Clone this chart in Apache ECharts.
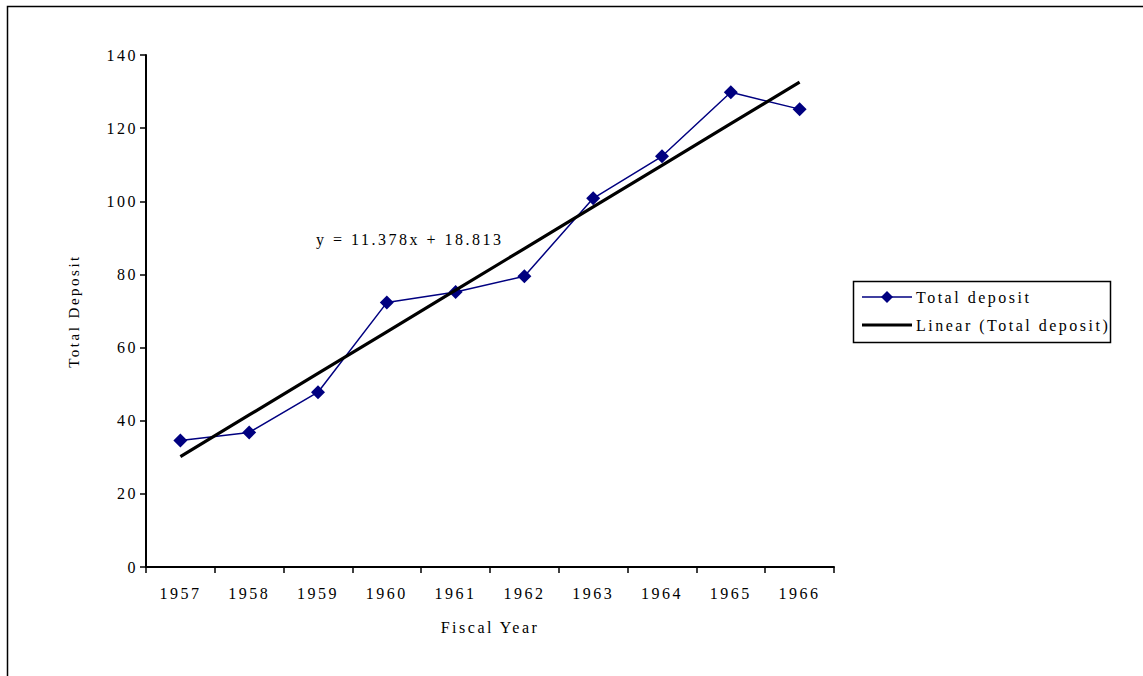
<!DOCTYPE html>
<html><head><meta charset="utf-8">
<script src="https://cdn.jsdelivr.net/npm/echarts@6/dist/echarts.min.js"></script>
<style>
html,body{margin:0;padding:0;background:#fff;}
#c{width:1143px;height:676px;}
#c text{letter-spacing:2.5px;}
</style></head><body>
<div id="c"></div>
<script>
const categories = ['1957','1958','1959','1960','1961','1962','1963','1964','1965','1966'];
const totalDeposit = [34.6, 36.8, 47.8, 72.3, 75.2, 79.5, 100.8, 112.3, 129.8, 125.2];
const trendValues = [30.19, 41.57, 52.95, 64.32, 75.70, 87.08, 98.46, 109.84, 121.22, 132.59];
const yTicks = [0, 140, 20];
const equationText = 'y = 11.378x + 18.813';
const legendNames = ['Total deposit', 'Linear (Total deposit)'];

const font = 'Liberation Serif';
const navy = '#000080';
const chart = echarts.init(document.getElementById('c'), null, {renderer: 'svg'});

// legend drawn as graphic (box, sample lines, texts)
const lgX = 853, lgY = 281, lgW = 257, lgH = 61;
const legendGraphics = [
  {type: 'rect', shape: {x: lgX + 0.5, y: lgY + 0.5, width: lgW, height: lgH},
   style: {fill: '#fff', stroke: '#000', lineWidth: 1.5}, z: 10},
  {type: 'line', shape: {x1: 862, y1: 297, x2: 912, y2: 297},
   style: {stroke: navy, lineWidth: 1.5}, z: 11},
  {type: 'polygon', shape: {points: [[887, 291], [893, 297], [887, 303], [881, 297]]},
   style: {fill: navy}, z: 12},
  {type: 'text', x: 916, y: 297,
   style: {text: legendNames[0], font: '16px "Liberation Serif"', fill: '#000', verticalAlign: 'middle'}, z: 12},
  {type: 'line', shape: {x1: 862, y1: 325, x2: 912, y2: 325},
   style: {stroke: '#000', lineWidth: 3}, z: 11},
  {type: 'text', x: 916, y: 325,
   style: {text: legendNames[1], font: '16px "Liberation Serif"', fill: '#000', verticalAlign: 'middle'}, z: 12}
];

chart.setOption({
  backgroundColor: '#fff',
  animation: false,
  textStyle: {fontFamily: font, color: '#000'},
  grid: {left: 146, top: 55, right: 309, bottom: 109},
  xAxis: {
    type: 'category', data: categories, boundaryGap: true,
    name: 'Fiscal Year', nameLocation: 'middle', nameGap: 52,
    nameTextStyle: {fontFamily: font, fontSize: 16, color: '#000'},
    axisLine: {lineStyle: {color: '#000', width: 2}},
    axisTick: {show: true, length: 6, lineStyle: {color: '#000', width: 1.5}},
    axisLabel: {fontFamily: font, fontSize: 16, color: '#000', margin: 18},
    splitLine: {show: false}
  },
  yAxis: {
    type: 'value', min: yTicks[0], max: yTicks[1], interval: yTicks[2],
    name: 'Total Deposit', nameLocation: 'middle', nameGap: 65, nameRotate: 90,
    nameTextStyle: {fontFamily: font, fontSize: 15, color: '#000'},
    axisLine: {show: true, lineStyle: {color: '#000', width: 2}},
    axisTick: {show: true, length: 6, lineStyle: {color: '#000', width: 1.5}},
    axisLabel: {fontFamily: font, fontSize: 16, color: '#000', margin: 8},
    splitLine: {show: false}
  },
  series: [
    {
      name: legendNames[0], type: 'line', data: totalDeposit,
      symbol: 'diamond', symbolSize: 14,
      itemStyle: {color: navy},
      lineStyle: {color: navy, width: 1.5},
      z: 3
    },
    {
      name: legendNames[1], type: 'line', data: trendValues,
      symbol: 'none', showSymbol: false,
      itemStyle: {color: '#000'},
      lineStyle: {color: '#000', width: 3.2},
      z: 4
    }
  ],
  graphic: [
    {type: 'rect', shape: {x: 7.5, y: 6.5, width: 1160, height: 690},
     style: {fill: 'none', stroke: '#000', lineWidth: 1.5}, silent: true},
    {type: 'text', x: 316, y: 239,
     style: {text: equationText, font: '16px "Liberation Serif"', fill: '#000', verticalAlign: 'middle'}}
  ].concat(legendGraphics)
});
</script></body></html>
